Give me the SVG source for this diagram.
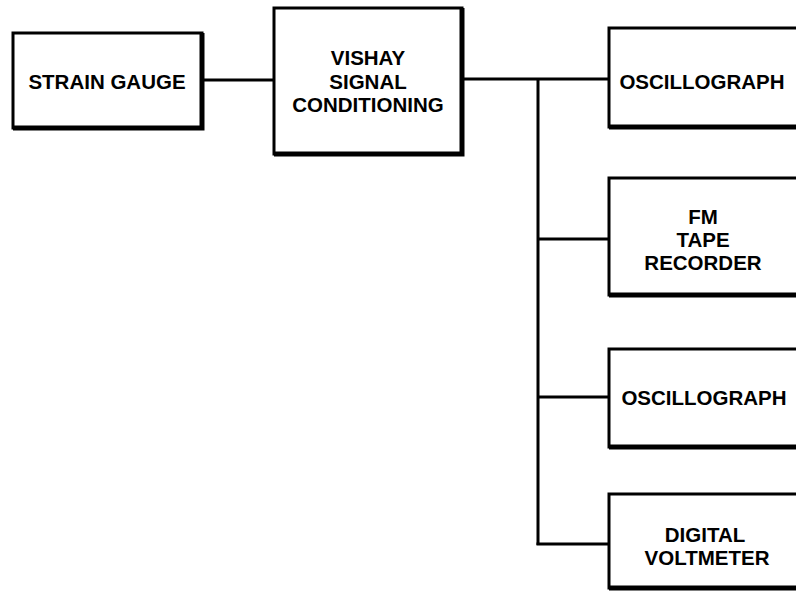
<svg xmlns="http://www.w3.org/2000/svg" width="796" height="596" viewBox="0 0 796 596">
<style>
.box{fill:#fff;stroke:#000;stroke-width:3}
.shadow{fill:none;stroke:#000;stroke-width:5}
.lbl{font-family:"Liberation Sans",Arial,Helvetica,sans-serif;font-weight:bold;font-size:20.5px;fill:#000;text-anchor:middle}
.wire{fill:none;stroke:#000;stroke-width:3}
</style>
<rect width="796" height="596" fill="#fff"/>
<g id="connectors">
<line class="wire" x1="202" y1="80" x2="274" y2="80"/>
<line class="wire" x1="462" y1="79" x2="609" y2="79"/>
<line class="wire" x1="538" y1="79" x2="538" y2="545"/>
<line class="wire" x1="538" y1="239" x2="609" y2="239"/>
<line class="wire" x1="538" y1="397" x2="609" y2="397"/>
<line class="wire" x1="536.5" y1="544" x2="609" y2="544"/>
</g>
<g id="strain-gauge">
<rect class="box" x="13" y="33" width="189" height="95"/>
<polyline class="shadow" points="13,128 202,128 202,33"/>
<text class="lbl" x="107" y="89">STRAIN GAUGE</text>
</g>
<g id="vishay">
<rect class="box" x="274" y="8" width="188" height="146"/>
<polyline class="shadow" points="274,154 462,154 462,8"/>
<text class="lbl" x="368" y="65">VISHAY</text>
<text class="lbl" x="368" y="89">SIGNAL</text>
<text class="lbl" x="368" y="112">CONDITIONING</text>
</g>
<g id="oscillograph-1">
<rect class="box" x="609" y="28" width="200" height="99"/>
<line class="shadow" x1="609" y1="127" x2="810" y2="127"/>
<text class="lbl" x="702" y="89">OSCILLOGRAPH</text>
</g>
<g id="fm-tape-recorder">
<rect class="box" x="609" y="178" width="200" height="117"/>
<line class="shadow" x1="609" y1="295" x2="810" y2="295"/>
<text class="lbl" x="703" y="224">FM</text>
<text class="lbl" x="703" y="247">TAPE</text>
<text class="lbl" x="703" y="270">RECORDER</text>
</g>
<g id="oscillograph-2">
<rect class="box" x="609" y="349" width="200" height="98"/>
<line class="shadow" x1="609" y1="447" x2="810" y2="447"/>
<text class="lbl" x="704" y="405">OSCILLOGRAPH</text>
</g>
<g id="digital-voltmeter">
<rect class="box" x="609" y="494" width="200" height="94"/>
<line class="shadow" x1="609" y1="588" x2="810" y2="588"/>
<text class="lbl" x="705" y="542">DIGITAL</text>
<text class="lbl" x="707" y="565">VOLTMETER</text>
</g>
</svg>
